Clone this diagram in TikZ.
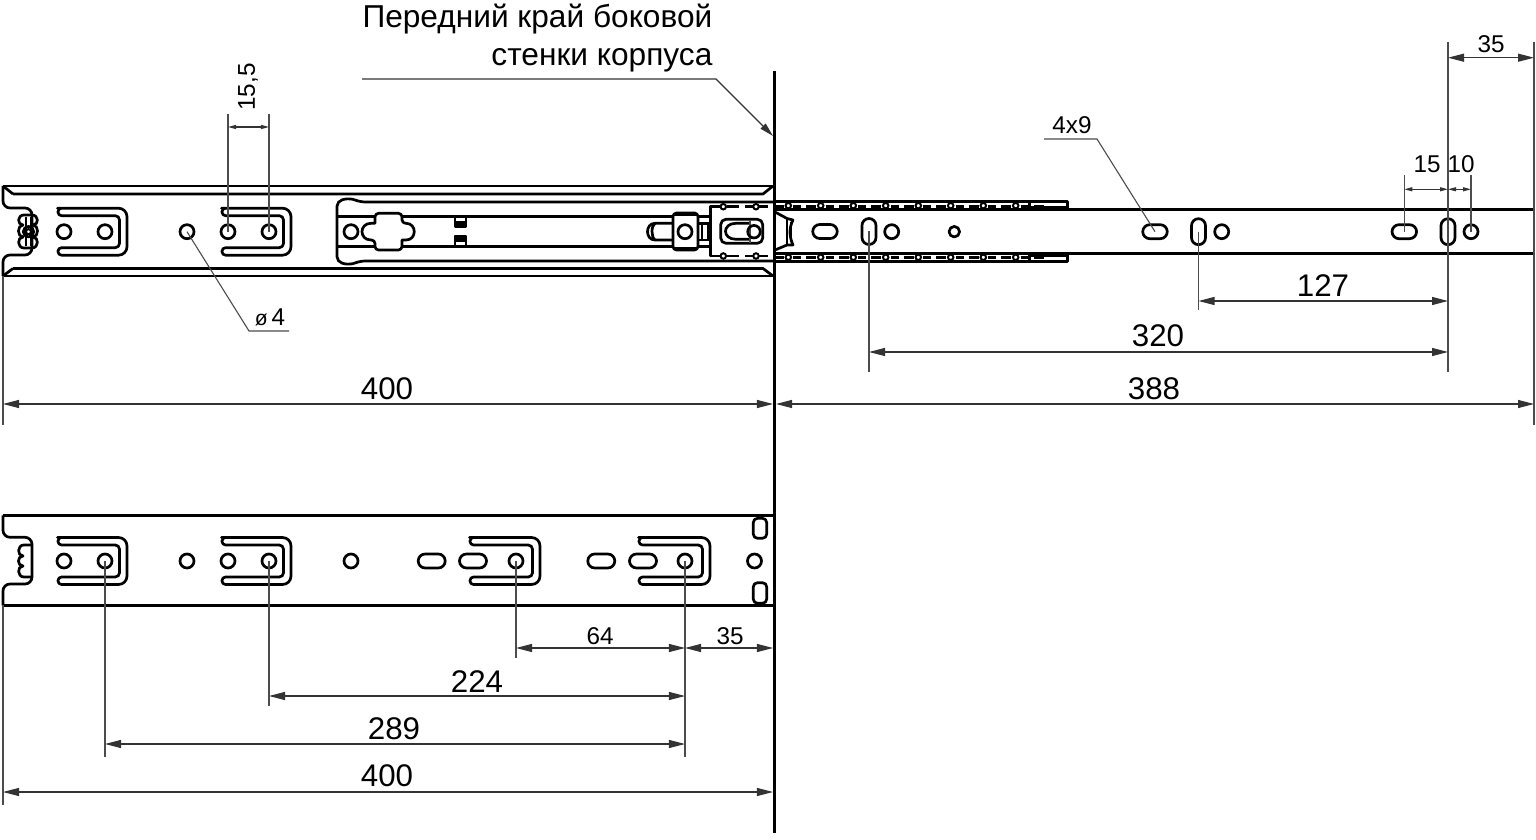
\documentclass[tikz,border=0pt]{standalone}
\usepackage{fontspec}
\setmainfont{Liberation Sans}
\usetikzlibrary{arrows.meta,shapes.misc}

% U-shaped lug: left end, outer right side, height of centre
\newcommand{\lugshape}[3]{
\path[draw,part] (#1,#3-23.5) [rounded corners=2.4pt] -- (#2,#3-23.5) -- (#2,#3+23.5) [rounded corners=1pt] -- (#1-3,#3+23.5) -- (#1-3,#3+16) [rounded corners=1.2pt] -- (#2-7.5,#3+16) -- (#2-7.5,#3-16) [rounded corners=1pt] -- (#1-3,#3-16) -- (#1-3,#3-23.5) -- cycle;
}

\tikzset{
  part/.style={line width=0.027cm,line join=round},
  wall/.style={line width=0.035cm},
  dimline/.style={line width=0.011cm,black!80},
  extline/.style={line width=0.011cm,black!70},
  bigdim/.style={dimline,<->,>={Triangle[length=0.16cm,width=0.08cm]}},
  smalldim/.style={dimline,<->,>={Triangle[length=0.08cm,width=0.04cm]}},
  hole/.style={draw,part,circle,inner sep=0pt,minimum size=0.14cm},
  smallhole/.style={draw,part,circle,inner sep=0pt,minimum size=0.105cm},
  pin/.style={draw,line width=0.02cm,circle,inner sep=0pt,minimum size=0.055cm,fill=white},
  slotbox/.style={draw,part,rounded rectangle,inner sep=0pt,minimum width=0.26cm,minimum height=0.14cm},
  slotup/.style={slotbox,rotate=90},
  bigtext/.style={inner sep=0pt,font=\fontsize{8.9}{11}\selectfont},
  notetext/.style={inner sep=0pt,font=\fontsize{9}{11}\selectfont},
  smalltext/.style={inner sep=0pt,font=\fontsize{6.9}{9}\selectfont}
}

\begin{document}
\begin{tikzpicture}[x=0.01cm,y=-0.01cm]
\useasboundingbox (0,0) rectangle (1536,840);

% upper rail
\path[draw,part] (3,186) -- (773,186);
\path[draw,part] (13,194) -- (763,194) -- (773,186);
\path[draw,part] (3,276) -- (773,276);
\path[draw,part] (13,268.5) -- (763,268.5) -- (773,276);
\path[draw,part] (3,186) -- (13,194);
\path[draw,part] (3,276) -- (13,268.5);
\path[draw,part,rounded corners=2pt] (3,186) -- (3,208) -- (32,208) -- (32,255) -- (3,255) -- (3,276);
\path[draw,part] (24,215) -- (32,215) .. controls (39,215) and (39,225) .. (33,225) .. controls (39,225) and (39,237) .. (33,237) .. controls (39,237) and (39,248) .. (32,248) -- (24,248) .. controls (17,248) and (17,237) .. (23,237) .. controls (17,237) and (17,225) .. (23,225) .. controls (17,225) and (17,215) .. (24,215);
\path[draw,part] (26,217) -- (26,246);
\path[draw,part] (31,217) -- (31,246);
\node[smallhole] (w1) at (28.5,231.7) {};
\node[pin,minimum size=0.05cm] (w2) at (28.5,231.7) {};

\lugshape{61}{127}{231.7}
\lugshape{225}{291}{231.7}
\node[hole] (h1) at (64,231.7) {};
\node[hole] (h2) at (105,231.7) {};
\node[hole] (h3) at (187,231.7) {};
\node[hole] (h4) at (228,231.7) {};
\node[hole] (h5) at (269,231.7) {};

% ball cage inside the rail
\path[draw,part,rounded corners=1.5pt] (773,202) -- (360,202) -- (350,198) -- (337,201) -- (337,262) -- (350,265) -- (360,261) -- (773,261);
\node[hole] (h6) at (351,231.7) {};
\path[draw,part] (337,216.7) -- (375,216.7);
\path[draw,part] (337,246.7) -- (375,246.7);
\path[draw,part] (402,216.7) -- (673,216.7);
\path[draw,part] (402,246.7) -- (673,246.7);
\path[draw,part,rounded corners=1pt] (388,213.3) -- (402,213.3) -- (402,223.3) [sharp corners] -- (406,223.3) .. controls (417,223.3) and (417,240) .. (406,240) -- (402,240) [rounded corners=1pt] -- (402,250) -- (375,250) -- (375,240) [sharp corners] -- (371,240) .. controls (359,240) and (359,223.3) .. (371,223.3) -- (375,223.3) [rounded corners=1pt] -- (375,213.3) -- cycle;
\path[draw,part,fill=black] (455,222) rectangle (466,226.7);
\path[draw,part] (455,217) rectangle (466,222);
\path[draw,part,fill=black] (455,236) rectangle (466,240.7);
\path[draw,part] (455,240.7) rectangle (466,246.7);

% stop on the cage
\path[draw,part,rounded corners=1pt] (673,213) rectangle (698,250);
\path[draw,part] (675,215) -- (696,215);
\path[draw,part] (675,248) -- (696,248);
\node[hole] (h7) at (685,231.7) {};
\path[draw,part] (673,223.3) -- (655,223.3) .. controls (645,223.3) and (645,240) .. (655,240) -- (673,240);
\path[draw,part] (655,223.3) .. controls (651,226) and (651,237) .. (655,240);
\path[draw,part] (698,216.7) -- (710,216.7);
\path[draw,part] (698,223.3) -- (710,223.3);
\path[draw,part] (698,240) -- (710,240);
\path[draw,part] (698,246.7) -- (710,246.7);
\path[draw,part] (702,223.3) -- (702,240);
\path[draw,part] (708,223.3) -- (708,240);

% front bracket
\path[draw,part] (720,206.7) -- (710.7,206.7) -- (710.7,256) -- (720,256);
\path[draw,part] (727,206.7) -- (739,206.7);
\path[draw,part] (745,206.7) -- (753,206.7);
\path[draw,part] (759,206.7) -- (768,206.7);
\path[draw,part] (727,256) -- (739,256);
\path[draw,part] (745,256) -- (753,256);
\path[draw,part] (759,256) -- (768,256);
\node[pin] (p1) at (723.3,206.7) {};
\node[pin] (p2) at (756,206.7) {};
\node[pin] (p3) at (723.3,256) {};
\node[pin] (p4) at (756,256) {};
\path[draw,part,rounded corners=1.5pt] (720.7,219.3) rectangle (762.7,243.3);
\path[draw,part] (750,223.3) -- (736,223.3) .. controls (722,223.3) and (722,239.3) .. (736,239.3) -- (750,239.3);
\path[draw,extline] (750,220) -- (750,243);
\node[hole,minimum size=0.125cm] (h8) at (754,231.7) {};

% drawer member
\path[draw,part] (775,209.3) -- (1534,209.3) -- (1534,253.7) -- (775,253.7);
\path[draw,part] (775,201.7) -- (1067.7,201.7) -- (1067.7,209.3);
\path[draw,part] (775,261.7) -- (1067.7,261.7) -- (1067.7,253.7);
\path[draw,part] (1029.3,201.7) -- (1029.3,209.3);
\path[draw,part] (1029.3,253.7) -- (1029.3,261.7);
\path[draw,part] (1029.3,207.5) -- (1067.7,207.5);
\path[draw,part] (1029.3,255.7) -- (1067.7,255.7);
\path[draw,part] (775,206.7) -- (784,206.7);
\path[draw,part] (775,257.7) -- (784,257.7);
\foreach \i/\xpos in {1/788.3,2/820.7,3/853.3,4/885.7,5/918.3,6/950.7,7/983.3,8/1015.7}{
  \path[draw,part] (\xpos+5,206.7) -- (\xpos+13,206.7);
  \path[draw,part] (\xpos+18,206.7) -- (\xpos+28,206.7);
  \path[draw,part] (\xpos+5,257.7) -- (\xpos+13,257.7);
  \path[draw,part] (\xpos+18,257.7) -- (\xpos+28,257.7);
  \node[pin] (t\i) at (\xpos,205.7) {};
  \node[pin] (b\i) at (\xpos,257.3) {};
}
\path[draw,part] (775,212) -- (787,218.5) -- (793,220) .. controls (789,228) and (789,236) .. (793,245) -- (787,245) -- (775,250);
\path[draw,part] (787,218.5) -- (787,245);
\path[draw,part] (791,222) -- (791,242);

\node[slotbox,minimum width=0.245cm] (s1) at (825,231.5) {};
\node[slotup] (s2) at (869,231.5) {};
\node[hole] (h9) at (891.7,231.7) {};
\node[smallhole] (h10) at (954.3,231.7) {};
\node[slotbox,minimum width=0.245cm] (s3) at (1155,231.7) {};
\node[slotup] (s4) at (1198.5,231.7) {};
\node[hole] (h11) at (1221.7,231.7) {};
\node[slotbox,minimum width=0.245cm] (s5) at (1404.3,231.7) {};
\node[slotup] (s6) at (1448,231.7) {};
\node[hole] (h12) at (1471,231.7) {};

% lower rail
\path[draw,part] (3,515.3) -- (773,515.3);
\path[draw,part] (3,605.3) -- (773,605.3);
\path[draw,part,rounded corners=2pt] (3,515.3) -- (3,537.3) -- (32,537.3) -- (32,584) -- (3,584) -- (3,605.3);
\path[draw,part] (32,545) -- (24,545) .. controls (17,545) and (17,556) .. (23,556) .. controls (17,556) and (17,566) .. (23,566) .. controls (17,566) and (17,577) .. (24,577) -- (32,577);

\lugshape{61}{127}{561}
\lugshape{225}{291}{561}
\lugshape{473}{540}{561}
\lugshape{642}{710}{561}
\node[hole] (l1) at (64,561) {};
\node[hole] (l2) at (105,561) {};
\node[hole] (l3) at (187,561) {};
\node[hole] (l4) at (228,561) {};
\node[hole] (l5) at (269,561) {};
\node[hole] (l6) at (351,561) {};
\node[slotbox,minimum width=0.27cm,fill=white] (l7) at (431.7,561) {};
\node[slotbox,minimum width=0.27cm,fill=white] (l8) at (473,561) {};
\node[hole] (l9) at (516,561) {};
\node[slotbox,minimum width=0.27cm,fill=white] (l10) at (601.3,561) {};
\node[slotbox,minimum width=0.27cm,fill=white] (l11) at (643,561) {};
\node[hole] (l12) at (685,561) {};
\node[hole] (l13) at (754.5,561) {};
\path[draw,part,rounded corners=1.2pt] (753.3,518.3) rectangle (766.7,538.3);
\path[draw,part,rounded corners=1.2pt] (753.3,582.7) rectangle (766.7,603.3);

% side wall
\coordinate (wt) at (774.5,71);
\coordinate (wb) at (774.5,833);
\path[draw,wall] (wt) -- (wb);

% note on the wall
\node[notetext,anchor=east] (note1) at (713,19) {Передний край боковой};
\node[notetext,anchor=east] (note2) at (713,60) {стенки корпуса};
\coordinate (n1) at (362,79);
\coordinate (n2) at (716,79);
\coordinate (n3) at (773,136);
\path[draw,dimline,->,>={Triangle[length=0.14cm,width=0.07cm]}] (n1) -- (n2) -- (n3);

% 15,5
\coordinate (a1) at (228,114);
\coordinate (a2) at (269,114);
\coordinate (a3) at (228,127);
\coordinate (a4) at (269,127);
\path[draw,extline] (a1) -- (h4.center);
\path[draw,extline] (a2) -- (h5.center);
\path[draw,smalldim] (a3) -- (a4);
\node[smalltext,rotate=90] (t155) at (248,87) {15,5};

% dia 4
\coordinate (c1) at (249,331);
\coordinate (c2) at (289,331);
\path[draw,extline] (h3.center) -- (c1) -- (c2);
\node[smalltext] (td4) at (270,317) {{\fontsize{6}{7}\selectfont ø}\,4};

% 4x9
\coordinate (d1) at (1097,139);
\coordinate (d2) at (1044,139);
\path[draw,extline] (s3.center) -- (d1) -- (d2);
\node[smalltext] (t49) at (1072,125) {4x9};

% right side dimensions
\coordinate (e1) at (1448,42);
\coordinate (e2) at (1448,372);
\coordinate (e3) at (1534,42);
\coordinate (e4) at (1534,425);
\path[draw,extline,line width=0.015cm] (e1) -- (e2);
\path[draw,extline,line width=0.015cm] (e3) -- (e4);
\coordinate (e5) at (1448,57.7);
\coordinate (e6) at (1534,57.7);
\path[draw,bigdim] (e5) -- (e6);
\node[smalltext] (t35a) at (1491,44) {35};

\coordinate (f1) at (1404.3,175);
\coordinate (f2) at (1471,175);
\coordinate (f3) at (1404.3,189.3);
\coordinate (f4) at (1448,189.3);
\coordinate (f5) at (1471,189.3);
\path[draw,extline] (f1) -- (s5.center);
\path[draw,extline] (f2) -- (h12.center);
\path[draw,smalldim] (f3) -- (f4);
\path[draw,smalldim] (f4) -- (f5);
\node[smalltext] (t15) at (1427,164) {15};
\node[smalltext] (t10) at (1461,164) {10};

\coordinate (g1) at (1198.5,310);
\coordinate (g2) at (1198.5,301);
\coordinate (g3) at (1448,301);
\path[draw,extline] (s4.center) -- (g1);
\path[draw,bigdim] (g2) -- (g3);
\node[bigtext] (t127) at (1323,286) {127};

\coordinate (i1) at (869,372);
\coordinate (i2) at (869,352);
\coordinate (i3) at (1448,352);
\path[draw,extline] (s2.center) -- (i1);
\path[draw,bigdim] (i2) -- (i3);
\node[bigtext] (t320) at (1158,336) {320};

\coordinate (j1) at (3,276);
\coordinate (j2) at (3,425);
\coordinate (j3) at (3,404);
\coordinate (j4) at (773,404);
\coordinate (j5) at (776,404);
\coordinate (j6) at (1534,404);
\path[draw,extline] (j1) -- (j2);
\path[draw,bigdim] (j3) -- (j4);
\path[draw,bigdim] (j5) -- (j6);
\node[bigtext] (t400a) at (387,389) {400};
\node[bigtext] (t388) at (1154,389) {388};

% lower dimensions
\coordinate (k1) at (516,658);
\coordinate (k2) at (516,648);
\coordinate (k3) at (685,648);
\coordinate (k4) at (685,757);
\coordinate (k5) at (773,648);
\path[draw,extline] (l9.center) -- (k1);
\path[draw,extline] (l12.center) -- (k4);
\path[draw,bigdim] (k2) -- (k3);
\path[draw,bigdim] (k3) -- (k5);
\node[smalltext] (t64) at (600,636) {64};
\node[smalltext] (t35b) at (730,636) {35};

\coordinate (m1) at (269,706);
\coordinate (m2) at (269,696);
\coordinate (m3) at (685,696);
\path[draw,extline] (l5.center) -- (m1);
\path[draw,bigdim] (m2) -- (m3);
\node[bigtext] (t224) at (477,682) {224};

\coordinate (o1) at (105,757);
\coordinate (o2) at (105,744);
\coordinate (o3) at (685,744);
\path[draw,extline] (l2.center) -- (o1);
\path[draw,bigdim] (o2) -- (o3);
\node[bigtext] (t289) at (394,729) {289};

\coordinate (q1) at (3,605);
\coordinate (q2) at (3,805);
\coordinate (q3) at (3,792);
\coordinate (q4) at (773,792);
\path[draw,extline] (q1) -- (q2);
\path[draw,bigdim] (q3) -- (q4);
\node[bigtext] (t400b) at (387,776) {400};
\end{tikzpicture}
\end{document}
